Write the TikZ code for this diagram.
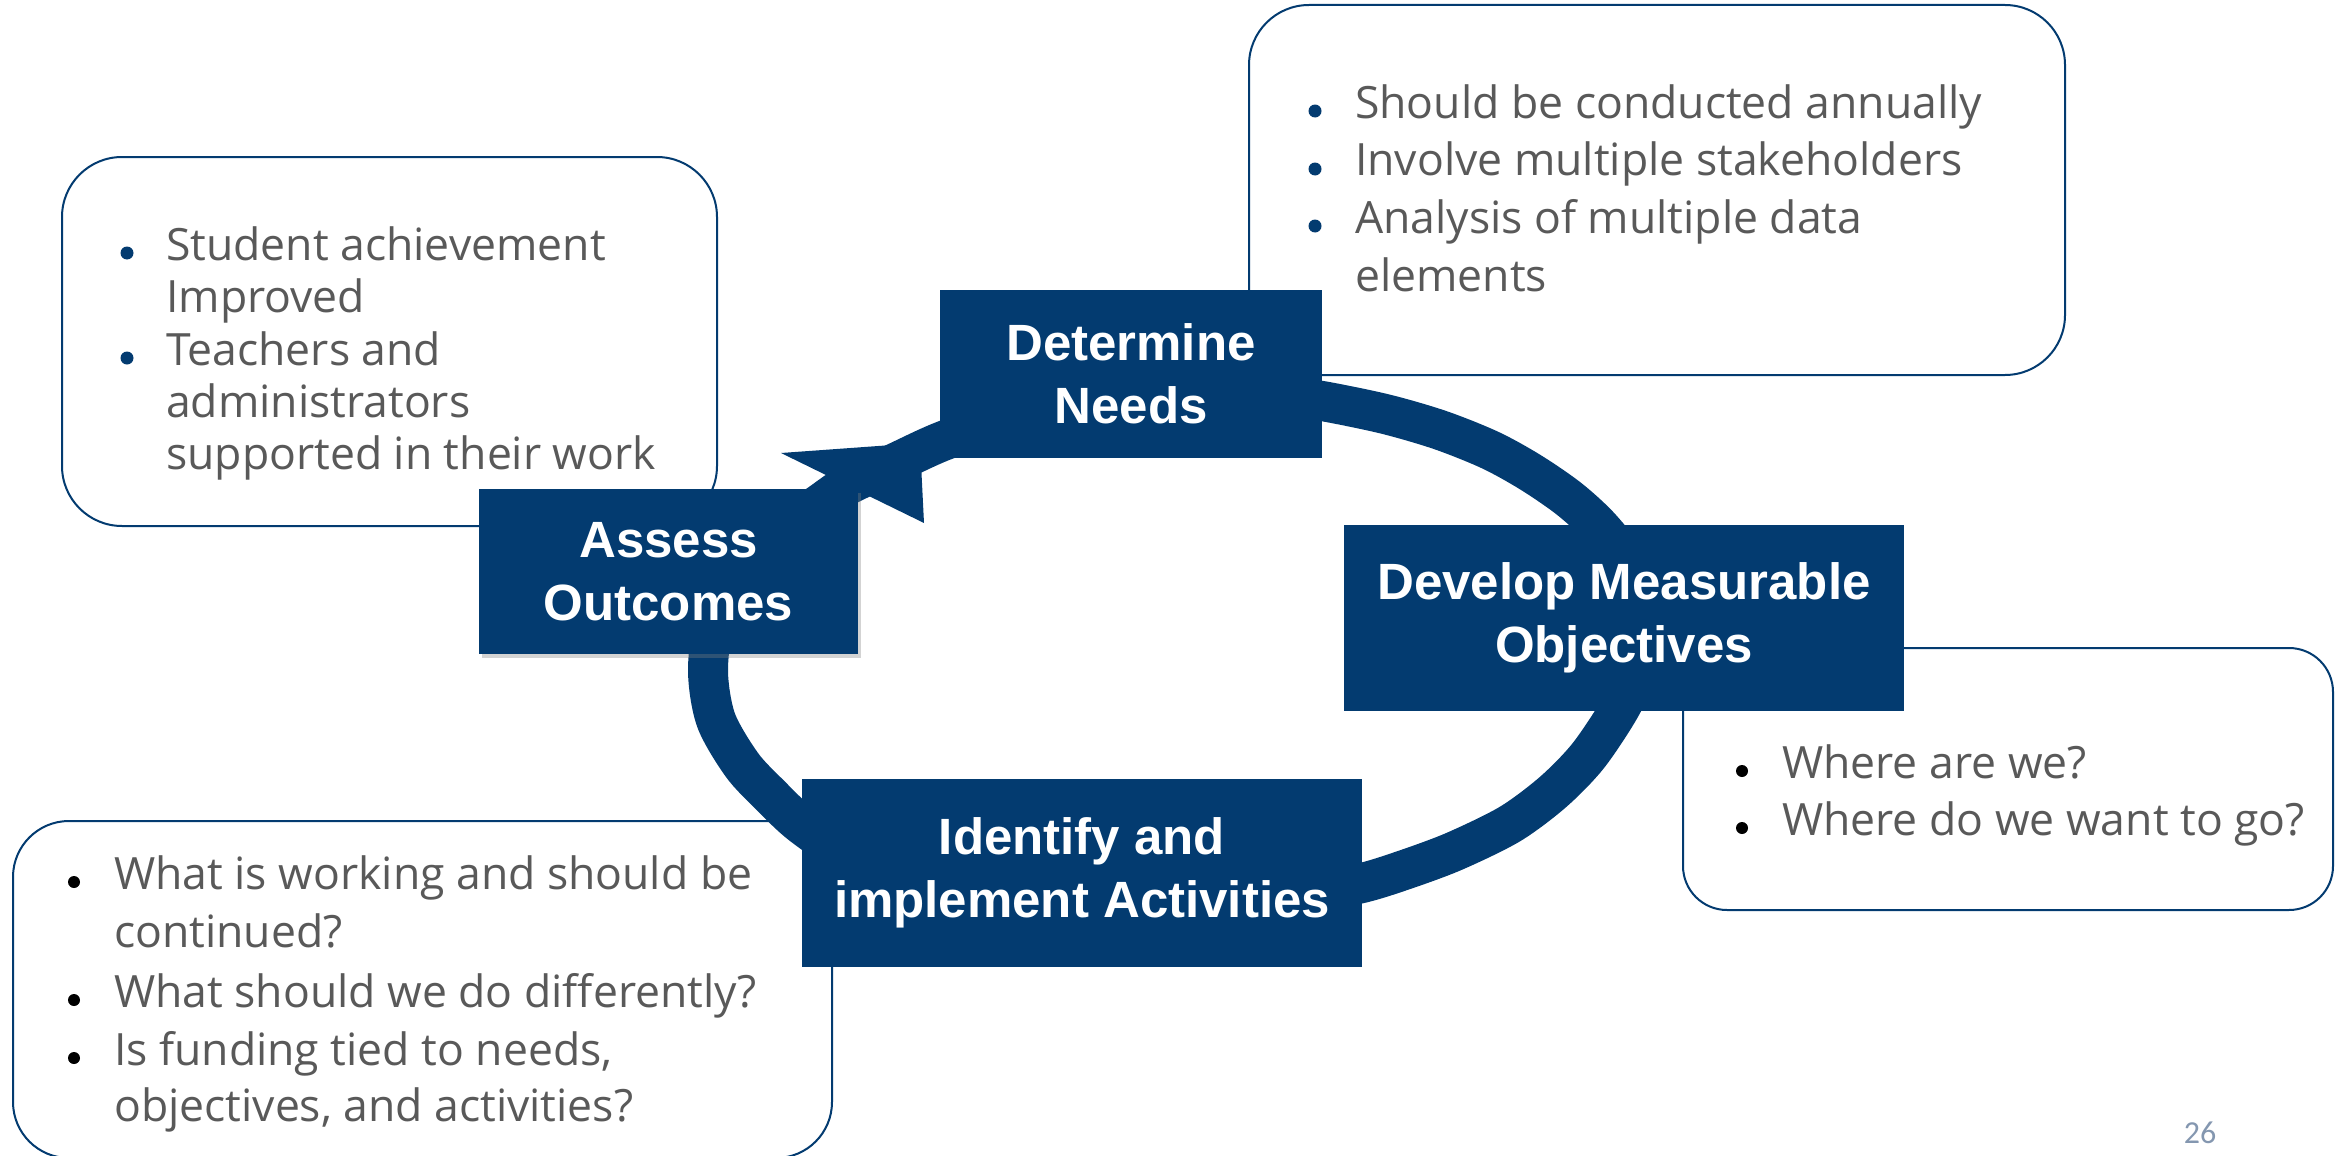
\documentclass[tikz,border=0pt]{standalone}
\usepackage{fontspec}
\setmainfont{Liberation Sans}
\newfontfamily\bodyfont{Open Sans}
\newfontfamily\numfont{Carlito}
\usetikzlibrary{shadows}
\definecolor{navy}{RGB}{3,59,112}
\definecolor{txtgray}{RGB}{89,89,89}
\definecolor{pgnum}{RGB}{132,151,176}
\tikzset{
  infobox/.style={draw=navy, line width=2pt, fill=white, inner sep=0pt},
  stage/.style={fill=navy, text=white, font=\fontsize{51}{63}\selectfont\bfseries, align=center, inner sep=0pt},
  item/.style={anchor=base west, text=txtgray, font=\bodyfont\fontsize{44.5}{57}\selectfont, inner sep=0pt},
  bluedot/.style={fill=navy},
  blackdot/.style={fill=black},
  ring/.style={draw=navy, line width=40pt},
}
\begin{document}
\begin{tikzpicture}[x=1pt,y=-1pt]
\useasboundingbox (0,0) rectangle (2335,1156);
% white info boxes
\node[infobox, rounded corners=60pt, minimum width=655pt, minimum height=369pt] (boxA) at (389.5,341.5) {};
\node[infobox, rounded corners=60pt, minimum width=816pt, minimum height=370pt] (boxB) at (1657,190) {};
\node[infobox, rounded corners=44pt, minimum width=650pt, minimum height=262pt] (boxC) at (2008,779) {};
\node[infobox, rounded corners=56pt, minimum width=819pt, minimum height=337pt] (boxD) at (422.5,989.5) {};
% cycle ring
\draw[ring] plot[smooth cycle, tension=0.5] coordinates {
 (708,670) (716,615) (745,560) (785,527) (818,505) (846,486) (895,463)
 (943,441) (1010,418) (1080,401) (1150,392) (1220,391) (1280,396)
 (1322,401) (1385,414) (1440,430) (1490,450) (1530,472) (1568,498)
 (1598,525) (1622,555) (1638,590) (1644,629) (1637,670) (1620,708)
 (1588,756) (1553,792) (1510,824) (1455,851) (1407,869) (1362,883)
 (1300,895) (1230,903) (1150,906) (1070,904) (1000,898) (920,883)
 (855,860) (802,825) (770,795) (742,765) (716,720)};
% arrow head
\fill[navy] (781,453) -- (924,523) -- (920,443) -- cycle;
% stage boxes
\node[stage, minimum width=382pt, minimum height=168pt] (det) at (1131,374) {Determine\\Needs};
\node[stage, minimum width=379pt, minimum height=165pt,
      drop shadow={shadow xshift=3pt, shadow yshift=-4pt, opacity=0.35}] (ass) at (668.5,571.5) {Assess\\Outcomes};
\node[stage, minimum width=560pt, minimum height=186pt] (dev) at (1624,618) {Develop Measurable\\Objectives};
\node[stage, minimum width=560pt, minimum height=188pt] (idf) at (1082,873) {Identify and\\implement Activities};
% box A text
\fill[bluedot] (127,253) circle (6.5);
\fill[bluedot] (127,358) circle (6.5);
\node[item] (a1) at (166,260) {Student achievement};
\node[item] (a2) at (166,312) {Improved};
\node[item] (a3) at (166,365) {Teachers and};
\node[item] (a4) at (166,417) {administrators};
\node[item] (a5) at (166,469) {supported in their work};
% box B text
\fill[bluedot] (1315,111) circle (6.5);
\fill[bluedot] (1315,169) circle (6.5);
\fill[bluedot] (1315,226) circle (6.5);
\node[item] (b1) at (1355,118) {Should be conducted annually};
\node[item] (b2) at (1355,175.6) {Involve multiple stakeholders};
\node[item] (b3) at (1355,233) {Analysis of multiple data};
\node[item] (b4) at (1355,291) {elements};
% box C text
\fill[blackdot] (1742,771) circle (6);
\fill[blackdot] (1742,828) circle (6);
\node[item] (c1) at (1782,778) {Where are we?};
\node[item] (c2) at (1782,835) {Where do we want to go?};
% box D text
\fill[blackdot] (74,882) circle (6);
\fill[blackdot] (74,1000) circle (6);
\fill[blackdot] (74,1058) circle (6);
\node[item] (d1) at (114,889) {What is working and should be};
\node[item] (d2) at (114,947) {continued?};
\node[item] (d3) at (114,1007) {What should we do differently?};
\node[item] (d4) at (114,1065) {Is funding tied to needs,};
\node[item] (d5) at (114,1121) {objectives, and activities?};
% page number
\node[anchor=base, text=pgnum, font=\numfont\fontsize{32}{38}\selectfont, inner sep=0pt] (pg) at (2200,1143) {26};
\end{tikzpicture}
\end{document}
